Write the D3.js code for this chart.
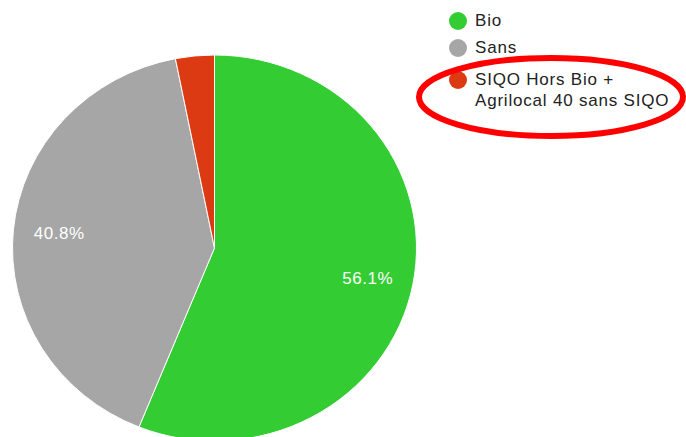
<!DOCTYPE html>
<html>
<head>
<meta charset="utf-8">
<script src="https://d3js.org/d3.v7.min.js"></script>
<style>
  body { margin: 0; background: #fff; }
  svg { display: block; font-family: "Liberation Sans", Arial, sans-serif; }
</style>
</head>
<body>
<div id="chart"></div>
<script>
// data
var categories = ["Bio", "Sans", "SIQO Hors Bio +\nAgrilocal 40 sans SIQO"];
var values = [56.1, 40.8, 3.1];
var colors = ["#33cc33", "#a6a6a6", "#dc3a12"];

var width = 686, height = 437;
var cx = 214.5, cy = 248;
var rx = 202, ry = 193; // picture is a little stretched sideways

var svg = d3.select("#chart")
  .append("svg")
  .attr("width", width)
  .attr("height", height);

var pie = d3.pie().sort(null).value(function(d) { return d; });
var arc = d3.arc().innerRadius(0).outerRadius(rx);
var labelArc = d3.arc().innerRadius(156).outerRadius(156);

var g = svg.append("g")
  .attr("transform", "translate(" + cx + "," + cy + ")");

var arcs = pie(values);

g.append("g")
  .attr("transform", "scale(1," + (ry / rx) + ")")
  .selectAll("path")
  .data(arcs)
  .enter()
  .append("path")
  .attr("d", arc)
  .attr("fill", function(d, i) { return colors[i]; })
  .attr("stroke", "#fff")
  .attr("stroke-width", 1)
  .attr("vector-effect", "non-scaling-stroke");

// percentage labels, only on the big slices
g.selectAll(".pct")
  .data(arcs.filter(function(d) { return d.data > 10; }))
  .enter()
  .append("text")
  .attr("class", "pct")
  .attr("transform", function(d) {
    var c = labelArc.centroid(d);
    return "translate(" + c[0] + "," + c[1] + ")";
  })
  .attr("text-anchor", "middle")
  .attr("dy", "0.35em")
  .attr("fill", "#fff")
  .attr("font-size", 17)
  .attr("letter-spacing", 0.5)
  .text(function(d) { return d.data.toFixed(1) + "%"; });

// legend
var legend = svg.append("g").attr("transform", "translate(458,0)");
var circleY = [21, 48, 80];
var baseY = [26, 53, 85];

categories.forEach(function(name, i) {
  legend.append("circle")
    .attr("cy", circleY[i])
    .attr("r", 9)
    .attr("fill", colors[i]);
  var t = legend.append("text")
    .attr("font-size", 17)
    .attr("letter-spacing", 0.8)
    .attr("fill", "#222");
  name.split("\n").forEach(function(line, j) {
    t.append("tspan")
      .attr("x", 17)
      .attr("y", baseY[i] + j * 21)
      .text(line);
  });
});

// red highlight ellipse
svg.append("ellipse")
  .attr("cx", 551)
  .attr("cy", 97)
  .attr("rx", 132)
  .attr("ry", 39)
  .attr("fill", "none")
  .attr("stroke", "#ff0000")
  .attr("stroke-width", 6);
</script>
</body>
</html>
